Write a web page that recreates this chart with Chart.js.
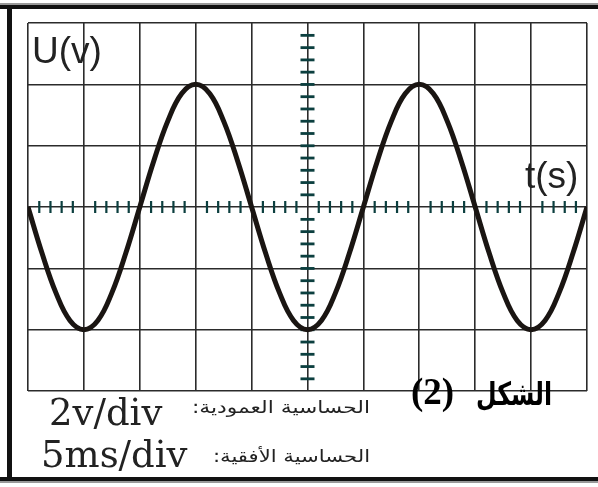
<!DOCTYPE html>
<html>
  <head>
    <meta charset="utf-8" />
    <title>Oscilloscope</title>
    <script src="https://cdn.jsdelivr.net/npm/chart.js@4.4.1/dist/chart.umd.min.js"></script>
    <style>
      body { margin: 0; background: #fff; }
    </style>
  </head>
  <body>
    <canvas id="myChart" width="598" height="487"></canvas>
    <script>
      // time in ms, voltage in V (2 V/div, 5 ms/div)
      const times = [
        0, 1.25, 2.5, 3.75, 5, 6.25, 7.5, 8.75, 10, 11.25, 12.5, 13.75, 15,
        16.25, 17.5, 18.75, 20, 21.25, 22.5, 23.75, 25, 26.25, 27.5, 28.75,
        30, 31.25, 32.5, 33.75, 35, 36.25, 37.5, 38.75, 40, 41.25, 42.5,
        43.75, 45, 46.25, 47.5, 48.75, 50,
      ];
      const volts = [
        0, -1.5, -2.8, -3.7, -4, -3.7, -2.8, -1.5, 0, 1.5, 2.8, 3.7, 4,
        3.7, 2.8, 1.5, 0, -1.5, -2.8, -3.7, -4, -3.7, -2.8, -1.5,
        0, 1.5, 2.8, 3.7, 4, 3.7, 2.8, 1.5, 0, -1.5, -2.8,
        -3.7, -4, -3.7, -2.8, -1.5, 0,
      ];
      const yLabel = "U(v)";
      const xLabel = "t(s)";
      const vertSens = "2v/div";
      const horizSens = "5ms/div";
      const vertSensAr = "الحساسية العمودية:";
      const horizSensAr = "الحساسية الأفقية:";
      const figWord = "الشكل";
      const figNum = "(2)";

      // draw rtl text squeezed/stretched to a given width, right edge at x
      function fitText(ctx, text, x, y, w) {
        const m = ctx.measureText(text).width;
        ctx.save();
        ctx.translate(x, y);
        ctx.scale(w / m, 1);
        ctx.fillText(text, 0, 0);
        ctx.restore();
      }

      const overlay = {
        id: "overlay",
        beforeDatasetsDraw(chart) {
          const ctx = chart.ctx;
          const x = chart.scales.x;
          const y = chart.scales.y;
          const x0 = x.getPixelForValue(25);
          const y0 = y.getPixelForValue(0);
          ctx.save();
          ctx.fillStyle = "#0c3f3f";
          // small ticks on the centre axes
          for (let t = 1; t < 50; t++) {
            if (t % 5 === 0) continue;
            const px = x.getPixelForValue(t);
            ctx.fillRect(px - 1, y0 - 6, 2.2, 12);
          }
          for (let v = -5.6; v < 6; v += 0.4) {
            const py = y.getPixelForValue(v);
            if (Math.abs(v) < 0.01) continue;
            ctx.fillRect(x0 - 7, py - 1.3, 14, 2.8);
          }
          ctx.restore();
        },
        afterDraw(chart) {
          const ctx = chart.ctx;
          ctx.save();
          // frame
          ctx.fillStyle = "#999";
          ctx.fillRect(0, 3, 598, 2);
          ctx.fillRect(0, 481, 598, 2);
          ctx.fillStyle = "#111";
          ctx.fillRect(0, 5, 598, 4);
          ctx.fillRect(0, 477, 598, 4);
          ctx.fillRect(7, 5, 5, 476);

          ctx.fillStyle = "#222";
          ctx.textAlign = "left";
          ctx.font = '37px "Liberation Sans"';
          ctx.fillText(yLabel, 32, 63);
          ctx.fillText(xLabel, 525, 188);

          ctx.font = '37px "DejaVu Serif"';
          ctx.fillText(vertSens, 49, 425);
          ctx.fillText(horizSens, 41, 467);

          ctx.direction = "rtl";
          ctx.textAlign = "right";
          ctx.font = '17px "DejaVu Sans"';
          fitText(ctx, vertSensAr, 370, 413, 178);
          fitText(ctx, horizSensAr, 370, 462, 157);

          ctx.fillStyle = "#000";
          ctx.font = 'bold 32px "DejaVu Sans"';
          fitText(ctx, figWord, 552, 405, 76);
          ctx.direction = "ltr";
          ctx.textAlign = "left";
          ctx.font = 'bold 37px "Liberation Serif"';
          ctx.fillText(figNum, 411, 404);
          ctx.restore();
        },
      };

      const data = {
        datasets: [
          {
            data: times.map((t, i) => ({ x: t, y: volts[i] })),
            borderColor: "#1a1512",
            borderWidth: 5,
            pointRadius: 0,
            tension: 0.4,
            fill: false,
          },
        ],
      };

      const config = {
        type: "line",
        data: data,
        options: {
          responsive: false,
          animation: false,
          layout: {
            autoPadding: false,
            padding: { left: 28, right: 11, top: 23, bottom: 96 },
          },
          plugins: {
            legend: { display: false },
            tooltip: { enabled: false },
          },
          scales: {
            x: {
              type: "linear",
              min: 0,
              max: 50,
              ticks: { display: false, stepSize: 5 },
              grid: { color: "#2b2b2b", lineWidth: 1.6, drawTicks: false },
              border: { display: false },
              afterFit: (s) => { s.height = 0; },
            },
            y: {
              min: -6,
              max: 6,
              ticks: { display: false, stepSize: 2 },
              grid: { color: "#2b2b2b", lineWidth: 1.6, drawTicks: false },
              border: { display: false },
              afterFit: (s) => { s.width = 0; },
            },
          },
        },
        plugins: [overlay],
      };
      const ctx = document.getElementById("myChart");
      const myChart = new Chart(ctx, config);
    </script>
  </body>
</html>
